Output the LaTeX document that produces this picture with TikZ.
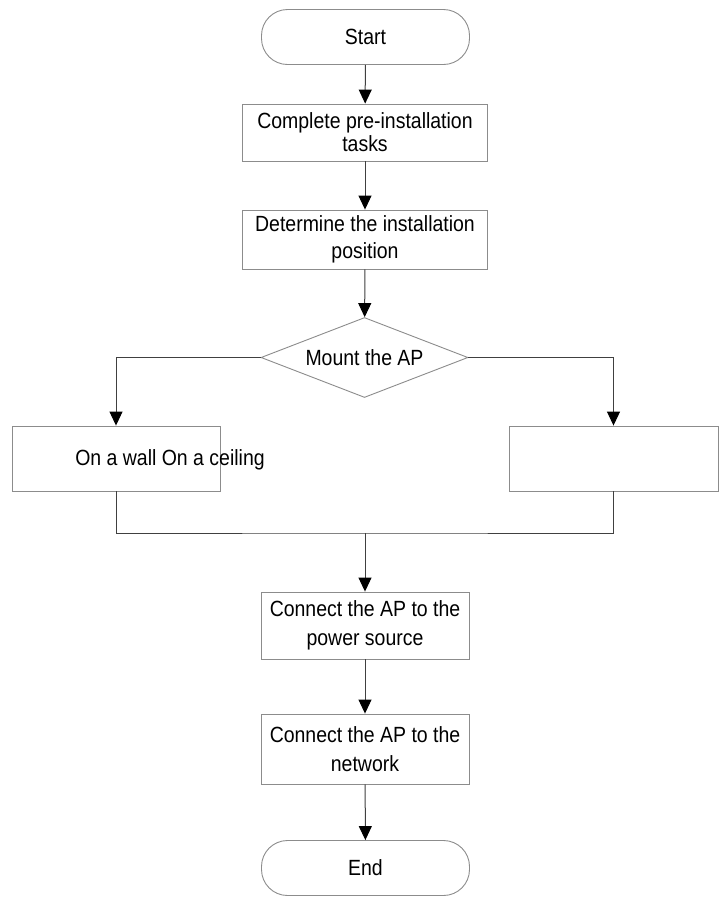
\documentclass[tikz,border=0pt]{standalone}
\usepackage{fontspec}
\setmainfont[FakeStretch=0.885]{Liberation Sans}
\usetikzlibrary{shapes.geometric,arrows.meta}
\begin{document}
\begin{tikzpicture}[x=1pt,y=-1pt,
  box/.style={draw=black!45,line width=0.9pt,rectangle,inner sep=0pt,align=center,font=\fontsize{22}{24}\selectfont},
  spaced/.style={font=\fontsize{22}{#1}\selectfont},
  term/.style={box,rounded corners=26pt},
  conn/.style={draw=black!75,line width=1pt},
  arr/.style={conn,-{Triangle[length=14pt,width=13pt,color=black]}},
  txt/.style={font=\fontsize{22}{24}\selectfont,inner sep=0pt}]
\useasboundingbox[fill=white] (0,0) rectangle (726,898);
\node[term,minimum width=208pt,minimum height=55pt] (start) at (365.5,37) {Start};
\node[box,spaced=23,minimum width=245pt,minimum height=57pt] (b1) at (365,132.5) {Complete pre-installation\\tasks};
\node[box,spaced=27,minimum width=245pt,minimum height=59pt] (b2) at (365,239.5) {Determine the installation\\position};
\node[box,shape=diamond,aspect=2.6,minimum width=207pt,minimum height=80pt] (dia) at (364.5,357.5) {Mount the AP};
\node[box,minimum width=208pt,minimum height=65pt] (L) at (116,458.5) {};
\node[box,minimum width=209pt,minimum height=65pt] (R) at (613.5,458.5) {};
\node[txt] (Ltxt) at (170,460) {On a wall On a ceiling};
\node[box,spaced=29,minimum width=208pt,minimum height=67pt] (b3) at (365,625.5) {Connect the AP to the\\power source};
\node[box,spaced=29,minimum width=208pt,minimum height=70pt] (b4) at (365,749) {Connect the AP to the\\network};
\node[term,minimum width=208pt,minimum height=55pt] (end) at (365.5,868) {End};
\coordinate (m) at (365,533);
\draw[arr] (start) -- (b1);
\draw[arr] (b1) -- (b2);
\draw[arr] (b2) -- (dia);
\draw[arr] (dia.west) -| (L.north);
\draw[arr] (dia.east) -| (R.north);
\draw[conn] (L.south) |- (m) -| (R.south);
\draw[arr] (m) -- (b3);
\draw[arr] (b3) -- (b4);
\draw[arr] (b4) -- (end);
\end{tikzpicture}
\end{document}
